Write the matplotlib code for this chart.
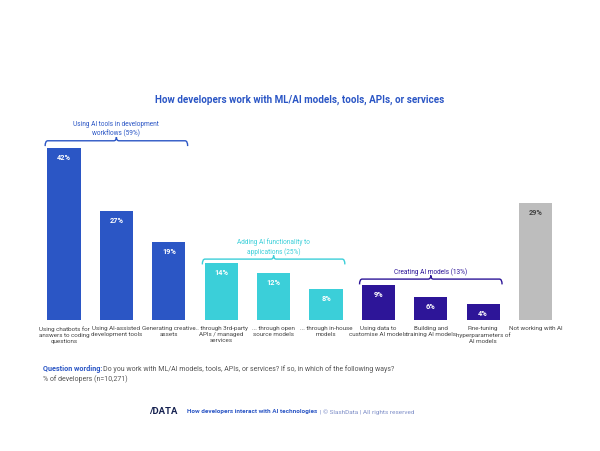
# -*- coding: utf-8 -*-
import matplotlib
matplotlib.use('Agg')
import matplotlib.pyplot as plt
from matplotlib.path import Path
from matplotlib.patches import PathPatch

plt.rcParams['font.family'] = ['Roboto', 'DejaVu Sans']

labels = ['Using chatbots for\nanswers to coding\nquestions', 'Using AI-assisted\ndevelopment tools',
          'Generating creative\nassets', '... through 3rd-party\nAPIs / managed\nservices',
          '... through open\nsource models', '... through in-house\nmodels',
          'Using data to\ncustomise AI models', 'Building and\ntraining AI models',
          'Fine-tuning\nhyperparameters of\nAI models', 'Not working with AI']
heights = [42.2, 26.7, 19.1, 14.0, 11.6, 7.7, 8.6, 5.7, 4.0, 28.8]
value_labels = ['42%', '27%', '19%', '14%', '12%', '8%', '9%', '6%', '4%', '29%']

BLUE = '#2b56c5'
TEAL = '#3bcfd9'
PURPLE = '#2d1598'
GREY = '#bdbdbd'
bar_colors = [BLUE] * 3 + [TEAL] * 3 + [PURPLE] * 3 + [GREY]
value_colors = ['white'] * 9 + ['#444444']

group_names = ['Using AI tools in development\nworkflows (59%)', 'Adding AI functionality to\napplications (25%)',
               'Creating AI models (13%)']
group_first = [0, 3, 6]
group_last = [2, 5, 8]
group_levels = [44.0, 15.0, 10.1]
group_colors = [BLUE, TEAL, PURPLE]

W, H = 600, 452
fig = plt.figure(figsize=(6, 4.52), dpi=100)
ax = fig.add_axes([37.8 / W, (H - 321.3) / H, 524 / W, 183.6 / H])
x = range(len(heights))
bars = ax.bar(x, heights, width=0.63, color=bar_colors)
ax.set_xlim(-0.5, 9.5)
ax.set_ylim(0, 45)
ax.set_yticks([])
ax.set_xticks(list(x))
ax.set_xticklabels(labels, fontsize=4.5, color='#444444', linespacing=1.27)
ax.tick_params(axis='x', length=0, pad=3.5)
for s in ax.spines.values():
    s.set_visible(False)

for b, v, c in zip(bars, value_labels, value_colors):
    ax.annotate(v, (b.get_x() + b.get_width() / 2, b.get_height()), xytext=(0, -9), textcoords='offset pixels',
                ha='center', va='center', fontsize=5.3, fontweight='bold', color=c)


def curly(ax, x0, x1, y, color):
    # curly bracket over a bar group, dx is the corner size in data units
    dx = 0.05
    mid = (x0 + x1) / 2
    verts = [(x0, y - 1.3), (x0, y), (x0 + dx, y), (mid - dx, y), (mid, y), (mid, y + 0.9),
             (mid, y), (mid + dx, y), (x1 - dx, y), (x1, y), (x1, y - 1.3)]
    codes = [Path.MOVETO, Path.CURVE3, Path.CURVE3, Path.LINETO, Path.CURVE3, Path.CURVE3,
             Path.CURVE3, Path.CURVE3, Path.LINETO, Path.CURVE3, Path.CURVE3]
    ax.add_patch(PathPatch(Path(verts, codes), fill=False, edgecolor=color, lw=1.0, clip_on=False))


for name, i0, i1, lvl, c in zip(group_names, group_first, group_last, group_levels, group_colors):
    curly(ax, i0 - 0.36, i1 + 0.36, lvl, c)
    ax.annotate(name, ((i0 + i1) / 2, lvl), xytext=(0, 4), textcoords='offset pixels', ha='center', va='bottom',
                fontsize=4.7, color=c, linespacing=1.3, annotation_clip=False)

fig.text(300 / W, 1 - 100 / H, 'How developers work with ML/AI models, tools, APIs, or services', ha='center',
         va='center', fontsize=7.1, fontweight='bold', color=BLUE)

fig.text(43 / W, 1 - 369.5 / H, 'Question wording:', va='center', fontsize=5.2, fontweight='bold', color=BLUE)
fig.text(103 / W, 1 - 369.5 / H, 'Do you work with ML/AI models, tools, APIs, or services? If so, in which of the following ways?',
         va='center', fontsize=5.05, color='#555555')
fig.text(43 / W, 1 - 379.5 / H, '% of developers (n=10,271)', va='center', fontsize=5.05, color='#555555')

fig.text(149 / W, 1 - 412 / H, '/DATA', va='center', fontsize=6.8, fontweight='bold', color='#14204f')
fig.text(187 / W, 1 - 412 / H, 'How developers interact with AI technologies', va='center', fontsize=4.6,
         fontweight='bold', color=BLUE)
fig.text(320 / W, 1 - 412 / H, '| © SlashData | All rights reserved', va='center', fontsize=4.6, color='#7f8fc8')

fig.savefig('out.png', dpi=100)
